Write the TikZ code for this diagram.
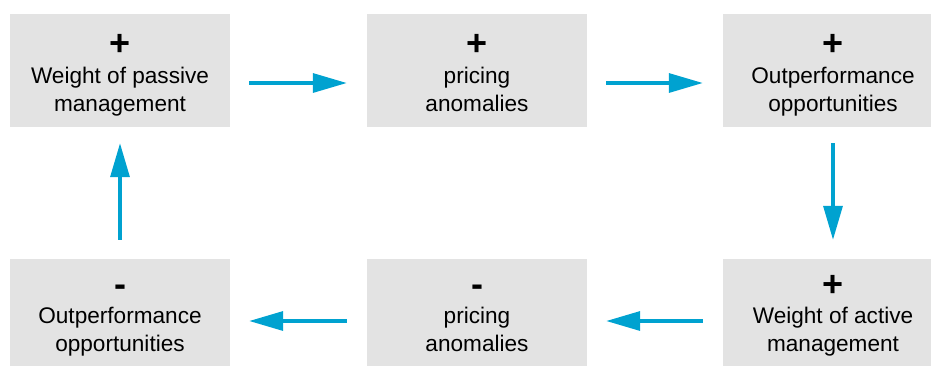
\documentclass[tikz,border=0pt]{standalone}
\usepackage{fontspec}
\setmainfont{Liberation Sans}
\usetikzlibrary{arrows.meta,calc}
\definecolor{boxgray}{HTML}{E3E3E3}
\definecolor{arrowblue}{HTML}{00A2D0}
\tikzset{
  box/.style={fill=boxgray, minimum width=220pt, minimum height=113pt, inner sep=0pt},
  txt/.style={anchor=base, inner sep=0pt, font=\fontsize{22.6}{28}\selectfont},
  sign/.style={anchor=base, inner sep=0pt, font=\fontsize{36}{36}\selectfont\bfseries},
  flow/.style={draw=arrowblue, line width=3.3pt, -{Triangle[length=34pt,width=19pt]}},
}
\begin{document}
\begin{tikzpicture}[x=1pt,y=-1pt]
\useasboundingbox (0,0) rectangle (931,365);
% boxes
\node[box] (b1) at (120,70.5) {};
\node[box] (b2) at (477,70.5) {};
\node[box] (b3) at (833,70.5) {};
\node[box] (b4) at (833,315.5) {};
\node[box] (b5) at (477,315.5) {};
\node[box] (b6) at (120,315.5) {};
% texts top row
\node[sign] (s1) at (120,55) {+};
\node[txt] (t1a) at (120,83) {Weight of passive};
\node[txt] (t1b) at (120,111) {management};
\node[sign] (s2) at (477,55) {+};
\node[txt] (t2a) at (477,83) {pricing};
\node[txt] (t2b) at (477,111) {anomalies};
\node[sign] (s3) at (833,55) {+};
\node[txt] (t3a) at (833,83) {Outperformance};
\node[txt] (t3b) at (833,111) {opportunities};
% texts bottom row
\node[sign] (s4) at (833,296) {+};
\node[txt] (t4a) at (833,323) {Weight of active};
\node[txt] (t4b) at (833,351) {management};
\node[sign] (s5) at (477,296) {-};
\node[txt] (t5a) at (477,323) {pricing};
\node[txt] (t5b) at (477,351) {anomalies};
\node[sign] (s6) at (120,296) {-};
\node[txt] (t6a) at (120,323) {Outperformance};
\node[txt] (t6b) at (120,351) {opportunities};
% arrows
\draw[flow, shorten <=19pt, shorten >=20pt] ($(b1.east)+(0,12.5)$) -- ($(b2.west)+(0,12.5)$);
\draw[flow, shorten <=19pt, shorten >=20pt] ($(b2.east)+(0,12.5)$) -- ($(b3.west)+(0,12.5)$);
\draw[flow, shorten <=16pt, shorten >=19pt] (b3.south) -- (b4.north);
\draw[flow, shorten <=20pt, shorten >=19pt] ($(b4.west)+(0,5.5)$) -- ($(b5.east)+(0,5.5)$);
\draw[flow, shorten <=20pt, shorten >=19pt] ($(b5.west)+(0,5.5)$) -- ($(b6.east)+(0,5.5)$);
\draw[flow, shorten <=19pt, shorten >=16pt] (b6.north) -- (b1.south);
\end{tikzpicture}
\end{document}
